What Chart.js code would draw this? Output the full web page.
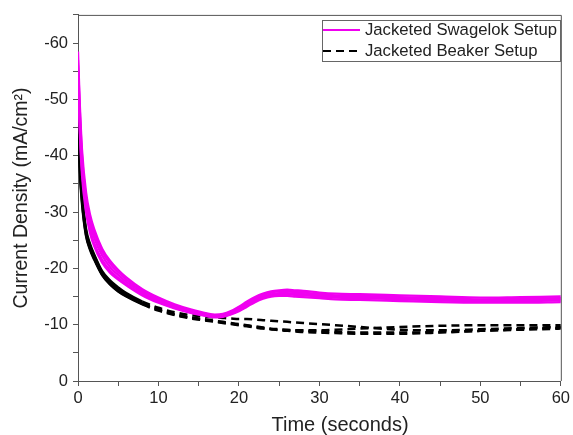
<!DOCTYPE html>
<html>
<head>
<meta charset="utf-8">
<script src="https://cdn.jsdelivr.net/npm/chart.js@4/dist/chart.umd.min.js"></script>
<style>
  body { margin: 0; background: #fff; }
  #wrap { width: 573px; height: 435px; }
</style>
</head>
<body>
<div id="wrap"><canvas id="current-chart"></canvas></div>
<script>
// Time axis (seconds) shared by every run
const timeS = [0, 0.2, 0.5, 1, 1.5, 2, 3, 4, 5, 6, 8, 10, 12, 14, 16, 17, 18, 19, 20, 21, 22, 23, 24, 25, 26, 27, 28, 30, 32, 35, 40, 45, 50, 55, 60];

// Jacketed Swagelok runs (mA/cm2)
const swagelok1 = [-58.5, -50, -41, -33.5, -29.5, -27, -23.5, -21.3, -19.7, -18.4, -16.3, -14.8, -13.6, -12.7, -12.0, -11.8, -11.9, -12.4, -13.2, -14.1, -14.9, -15.5, -15.9, -16.1, -16.2, -16.1, -16.0, -15.7, -15.5, -15.4, -15.2, -15.0, -14.8, -14.9, -15.0];
const swagelok2 = [-57, -49, -40, -32.5, -28.5, -26.3, -23, -20.8, -19.3, -18.0, -16.0, -14.6, -13.4, -12.5, -11.9, -11.7, -11.8, -12.2, -13.0, -13.9, -14.7, -15.3, -15.7, -15.9, -15.9, -15.8, -15.7, -15.4, -15.2, -15.1, -14.9, -14.7, -14.5, -14.6, -14.7];
const swagelok3 = [-56, -48, -39, -32, -28, -25.5, -22.3, -20.2, -18.8, -17.6, -15.7, -14.3, -13.2, -12.3, -11.7, -11.5, -11.6, -12.0, -12.7, -13.6, -14.4, -15.0, -15.4, -15.6, -15.6, -15.5, -15.4, -15.2, -15.0, -14.9, -14.7, -14.5, -14.3, -14.4, -14.5];
const swagelok4 = [-55, -46, -37.5, -31, -27, -24.5, -21.5, -19.6, -18.3, -17.2, -15.4, -14.1, -13.0, -12.2, -11.6, -11.4, -11.5, -11.9, -12.5, -13.4, -14.2, -14.8, -15.2, -15.4, -15.4, -15.3, -15.2, -15.0, -14.8, -14.7, -14.5, -14.3, -14.1, -14.2, -14.3];
const swagelok5 = [-54, -45, -36.5, -30, -26.3, -24, -21, -19.2, -18.0, -17.0, -15.2, -13.9, -12.9, -12.1, -11.5, -11.3, -11.4, -11.8, -12.4, -13.2, -14.0, -14.6, -15.0, -15.1, -15.1, -15.0, -14.9, -14.7, -14.5, -14.4, -14.2, -14.0, -13.9, -13.9, -14.0];

// Jacketed Beaker runs (mA/cm2)
const beaker1 = [-50, -40, -33, -26.5, -24, -22.3, -19.3, -17.6, -16.4, -15.4, -13.9, -12.8, -11.9, -11.3, -10.9, -10.7, -10.5, -10.3, -10.1, -9.9, -9.7, -9.5, -9.3, -9.2, -9.1, -9.0, -8.9, -8.8, -8.7, -8.6, -8.6, -8.7, -8.9, -9.1, -9.3];
const beaker2 = [-49, -39, -32, -26, -23.5, -21.8, -18.9, -17.2, -16.0, -15.1, -13.7, -12.6, -11.8, -11.2, -10.8, -10.6, -10.4, -10.2, -10.0, -9.8, -9.6, -9.4, -9.2, -9.0, -8.9, -8.8, -8.7, -8.6, -8.5, -8.4, -8.4, -8.6, -8.9, -9.2, -9.5];
const beaker3 = [-50, -41, -33.5, -27, -24.3, -22.5, -19.5, -17.8, -16.6, -15.6, -14.1, -13.0, -12.2, -11.7, -11.4, -11.3, -11.2, -11.1, -11.0, -11.0, -10.9, -10.8, -10.7, -10.6, -10.5, -10.4, -10.3, -10.1, -9.9, -9.6, -9.1, -9.0, -9.2, -9.4, -9.6];
const beaker4 = [-48, -38, -31.5, -25.8, -23.3, -21.6, -18.8, -17.1, -15.9, -15.0, -13.6, -12.5, -11.7, -11.1, -10.7, -10.5, -10.3, -10.1, -9.9, -9.7, -9.5, -9.3, -9.2, -9.1, -9.0, -9.0, -9.0, -9.0, -9.1, -9.3, -9.6, -9.8, -9.9, -9.9, -9.9];

const seriesLabels = ['Jacketed Swagelok Setup', 'Jacketed Beaker Setup'];
const xTitle = 'Time (seconds)';
const yTitle = 'Current Density (mA/cm²)';

const MAGENTA = '#f000f0';
const FONT = '"Liberation Sans", Arial, sans-serif';
const AXIS = '#555';

function toPoints(values) {
    return values.map((v, i) => ({ x: timeS[i], y: v }));
}

function swagelokSet(values) {
    return {
        label: seriesLabels[0],
        data: toPoints(values),
        borderColor: MAGENTA,
        borderWidth: 2.3,
        pointRadius: 0,
        cubicInterpolationMode: 'monotone'
    };
}

function beakerSet(values) {
    return {
        label: seriesLabels[1],
        data: toPoints(values),
        borderColor: '#000',
        borderWidth: 2.5,
        pointRadius: 0,
        cubicInterpolationMode: 'monotone',
        // early steep part looks solid in the original, dashed later
        segment: {
            borderDash: ctx => ctx.p0.parsed.x < 8 ? [] : [8, 5]
        }
    };
}

// frame, x title and boxed legend
const extras = {
    id: 'extras',
    afterDraw(chart) {
        const { ctx, chartArea: a } = chart;
        ctx.save();
        ctx.strokeStyle = AXIS;
        ctx.lineWidth = 1;
        ctx.beginPath();
        ctx.moveTo(a.left, a.top + 0.5);
        ctx.lineTo(a.right + 0.5, a.top + 0.5);
        ctx.lineTo(a.right + 0.5, a.bottom);
        ctx.stroke();

        ctx.fillStyle = '#222';
        ctx.font = '20px ' + FONT;
        ctx.textAlign = 'center';
        ctx.textBaseline = 'middle';
        ctx.fillText(xTitle, 340, 425);

        // legend box
        ctx.strokeStyle = '#666';
        ctx.strokeRect(322.5, 20.5, 238, 41);
        ctx.lineWidth = 2;
        ctx.strokeStyle = MAGENTA;
        ctx.beginPath();
        ctx.moveTo(323, 30);
        ctx.lineTo(360, 30);
        ctx.stroke();
        ctx.strokeStyle = '#000';
        ctx.setLineDash([8, 5]);
        ctx.beginPath();
        ctx.moveTo(323, 51);
        ctx.lineTo(362, 51);
        ctx.stroke();
        ctx.setLineDash([]);
        ctx.font = '16.7px ' + FONT;
        ctx.textAlign = 'left';
        ctx.fillText(seriesLabels[0], 365, 30);
        ctx.fillText(seriesLabels[1], 365, 51);
        ctx.restore();
    }
};

new Chart(document.querySelector('#current-chart').getContext('2d'), {
    type: 'line',
    data: {
        datasets: [
            swagelokSet(swagelok1),
            swagelokSet(swagelok2),
            swagelokSet(swagelok3),
            swagelokSet(swagelok4),
            swagelokSet(swagelok5),
            beakerSet(beaker1),
            beakerSet(beaker2),
            beakerSet(beaker3),
            beakerSet(beaker4)
        ]
    },
    options: {
        responsive: true,
        maintainAspectRatio: false,
        animation: false,
        layout: { padding: { top: 13, right: 11, left: 0, bottom: 0 } },
        plugins: {
            legend: { display: false },
            tooltip: { enabled: false }
        },
        scales: {
            x: {
                type: 'linear',
                min: 0,
                max: 60,
                afterFit: scale => { scale.height = 54; },
                border: { display: true, color: AXIS, width: 1 },
                grid: { drawOnChartArea: false, drawTicks: true, tickLength: 5, tickColor: AXIS },
                ticks: {
                    stepSize: 5,
                    padding: 3,
                    color: '#222',
                    font: { family: FONT, size: 16.5 },
                    maxRotation: 0,
                    autoSkip: false,
                    callback: v => v % 10 === 0 ? v : ''
                }
            },
            y: {
                type: 'linear',
                min: -65,
                max: 0,
                reverse: true,
                afterFit: scale => { scale.width = 78; },
                border: { display: true, color: AXIS, width: 1 },
                grid: { drawOnChartArea: false, drawTicks: true, tickLength: 5, tickColor: AXIS },
                ticks: {
                    stepSize: 5,
                    padding: 5,
                    color: '#222',
                    font: { family: FONT, size: 16.5 },
                    autoSkip: false,
                    callback: v => v % 10 === 0 ? v : ''
                },
                title: {
                    display: true,
                    text: yTitle,
                    color: '#222',
                    font: { family: FONT, size: 19.5, lineHeight: 1 },
                    padding: { top: 12, bottom: 0 }
                }
            }
        }
    },
    plugins: [extras]
});
</script>
</body>
</html>
